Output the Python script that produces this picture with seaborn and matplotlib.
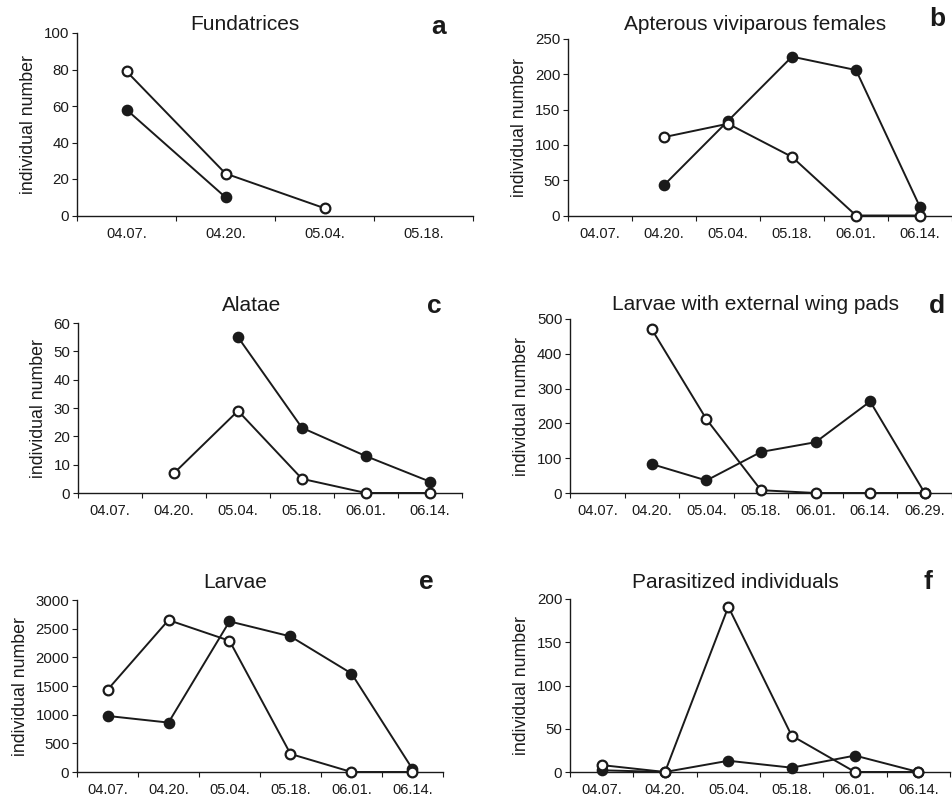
import numpy as np
import pandas as pd
import matplotlib
matplotlib.use("Agg")
import matplotlib.pyplot as plt
import seaborn as sns

sns.set_theme(style="ticks")
plt.rcParams["font.family"] = ["Liberation Sans", "DejaVu Sans"]

nan = np.nan

# Sampling dates per panel
dates_a = ["04.07.", "04.20.", "05.04.", "05.18."]
dates_6 = ["04.07.", "04.20.", "05.04.", "05.18.", "06.01.", "06.14."]
dates_d = ["04.07.", "04.20.", "05.04.", "05.18.", "06.01.", "06.14.", "06.29."]

# Filled-circle series
filled_a = [58, 10, nan, nan]
filled_b = [nan, 43, 134, 225, 206, 12]
filled_c = [nan, nan, 55, 23, 13, 4]
filled_d = [nan, 83, 36, 118, 146, 263, 0]
filled_e = [978, 862, 2627, 2365, 1718, 52]
filled_f = [2, 0, 13, 5, 19, 0]

# Open-circle series
open_a = [79, 23, 4, nan]
open_b = [nan, 111, 130, 83, 0, 0]
open_c = [nan, 7, 29, 5, 0, 0]
open_d = [nan, 470, 212, 8, 0, 0, 0]
open_e = [1433, 2650, 2289, 315, 0, 0]
open_f = [8, 0, 191, 42, 0, 0]

titles = ["Fundatrices", "Apterous viviparous females", "Alatae",
          "Larvae with external wing pads", "Larvae", "Parasitized individuals"]
letters = ["a", "b", "c", "d", "e", "f"]
y_max = [100, 250, 60, 500, 3000, 200]
y_step = [20, 50, 10, 100, 500, 50]

panels = [
    (dates_a, filled_a, open_a),
    (dates_6, filled_b, open_b),
    (dates_6, filled_c, open_c),
    (dates_d, filled_d, open_d),
    (dates_6, filled_e, open_e),
    (dates_6, filled_f, open_f),
]

W, H = 953, 798
# axes boxes in pixels: left, top, right, bottom
boxes = [
    (77, 33, 473, 215.5),
    (568, 39, 952, 215.5),
    (78, 323, 462, 493),
    (570, 319, 952, 493),
    (77, 600, 443, 772),
    (570, 599, 950, 772),
]
# title centre x (px), title centre y (px), letter x, letter y
title_pos = [
    (245, 25, 439, 27),
    (755, 25, 937, 19),
    (252, 306, 434, 306),
    (755, 304, 937, 306),
    (235, 582, 426, 582),
    (735, 582, 928, 582),
]

ink = "#1a1a1a"
fig = plt.figure(figsize=(W / 100, H / 100), dpi=100)

for i, (dates, filled, opened) in enumerate(panels):
    l, t, r, b = boxes[i]
    ax = fig.add_axes([l / W, 1 - b / H, (r - l) / W, (b - t) / H])
    n = len(dates)
    pos = np.arange(n)
    df = pd.DataFrame({"pos": np.concatenate([pos, pos]),
                       "count": np.concatenate([filled, opened]),
                       "kind": ["filled"] * n + ["open"] * n}).dropna()
    d_f = df[df["kind"] == "filled"]
    d_o = df[df["kind"] == "open"]
    sns.lineplot(data=d_f, x="pos", y="count", ax=ax, color=ink, lw=1.4,
                 marker="o", markersize=7.2, markerfacecolor=ink,
                 markeredgecolor=ink, markeredgewidth=1.2, zorder=3,
                 clip_on=False)
    sns.lineplot(data=d_o, x="pos", y="count", ax=ax, color=ink, lw=1.4,
                 marker="o", markersize=7, markerfacecolor="white",
                 markeredgecolor=ink, markeredgewidth=1.6, zorder=4,
                 clip_on=False)

    ax.set_xlim(-0.5, n - 0.5)
    ax.set_ylim(0, y_max[i])
    ax.set_yticks(np.arange(0, y_max[i] + 1, y_step[i]))
    ax.set_xticks(np.arange(n + 1) - 0.5)
    ax.set_xticklabels([])
    ax.set_xticks(pos, minor=True)
    ax.set_xticklabels(dates, minor=True)
    ax.tick_params(axis="x", which="major", length=3.5, width=0.8,
                   direction="out", color=ink)
    ax.tick_params(axis="x", which="minor", length=0, pad=8,
                   labelsize=10.5, labelcolor=ink)
    ax.tick_params(axis="y", length=3.5, width=0.8, direction="out",
                   color=ink, labelsize=10.8, labelcolor=ink, pad=2)
    for s in ["top", "right"]:
        ax.spines[s].set_visible(False)
    for s in ["left", "bottom"]:
        ax.spines[s].set_color(ink)
        ax.spines[s].set_linewidth(1.0)
    ax.set_xlabel("")
    ax.set_ylabel("individual number", fontsize=12.8, color=ink, labelpad=5)
    ax.grid(False)
    ax.set_facecolor("white")

    tx, ty, lx, ly = title_pos[i]
    fig.text(tx / W, 1 - ty / H, titles[i], ha="center", va="center",
             fontsize=15, color=ink)
    fig.text(lx / W, 1 - ly / H, letters[i], ha="center", va="center",
             fontsize=19, fontweight="bold", color=ink)

fig.savefig("out.png", dpi=100, facecolor="white")
